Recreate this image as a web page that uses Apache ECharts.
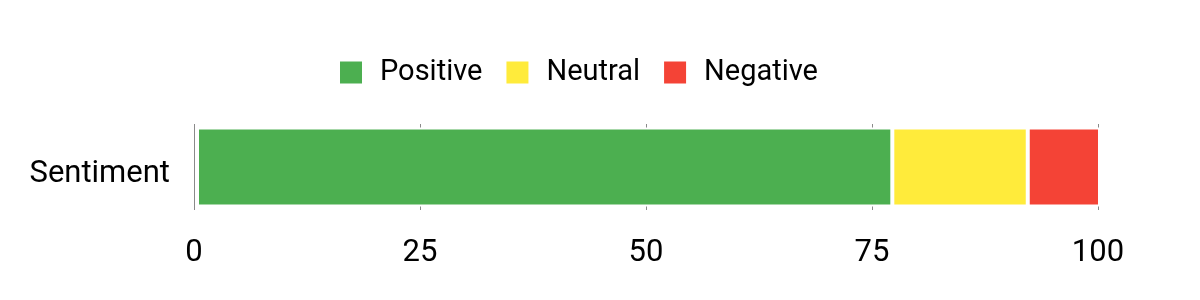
<!DOCTYPE html>
<html>
<head>
<meta charset="utf-8">
<script src="https://cdn.jsdelivr.net/npm/echarts@6/dist/echarts.min.js"></script>
<style>html,body{margin:0;padding:0;background:#fff}#c{width:1200px;height:300px}</style>
</head>
<body>
<div id="c"></div>
<script>
const categories = ['Sentiment'];
const seriesNames = ['Positive', 'Neutral', 'Negative'];
const positiveValues = [77];
const neutralValues = [15];
const negativeValues = [8];
const xTicks = [0, 25, 50, 75, 100];
const colors = ['#4CAF50', '#FFEB3B', '#F44336'];

const chart = echarts.init(document.getElementById('c'));
const font = 'Roboto';
const valueLists = [positiveValues, neutralValues, negativeValues];
const xMin = xTicks[0], xMax = xTicks[xTicks.length - 1], xStep = xTicks[1] - xTicks[0];
chart.setOption({
  animation: false,
  color: colors,
  legend: {
    left: 333,
    top: 53,
    icon: 'rect',
    itemWidth: 24,
    itemHeight: 24,
    itemGap: 22,
    textStyle: { fontFamily: font, fontSize: 29, color: '#000', padding: [0, 0, 0, 12] },
    data: seriesNames
  },
  grid: [
    { left: 194, right: 102, top: 124, bottom: 90, containLabel: false },
    { left: 197, right: 100, top: 124, bottom: 90, containLabel: false }
  ],
  xAxis: [{
    type: 'value', gridIndex: 0,
    min: xMin, max: xMax, interval: xStep,
    axisLine: { show: false },
    axisTick: { show: false },
    splitLine: { show: true, lineStyle: { color: '#8a8a8a', width: 1 } },
    axisLabel: { fontFamily: font, fontSize: 31, color: '#000', margin: 28 }
  }, {
    type: 'value', gridIndex: 1,
    min: xMin, max: xMax, interval: xStep,
    show: false
  }],
  yAxis: [{
    type: 'category', gridIndex: 0,
    data: categories,
    axisLine: { show: false },
    axisTick: { show: false },
    axisLabel: { fontFamily: font, fontSize: 31, color: '#000', margin: 24, verticalAlign: 'top', lineHeight: 15 }
  }, {
    type: 'category', gridIndex: 1,
    data: categories,
    show: false
  }],
  series: seriesNames.map((n, i) => ({
    name: n,
    type: 'bar',
    stack: 'total',
    xAxisIndex: 1,
    yAxisIndex: 1,
    barWidth: '92%',
    data: valueLists[i],
    itemStyle: { borderColor: '#fff', borderWidth: 2 }
  }))
});
</script>
</body>
</html>
